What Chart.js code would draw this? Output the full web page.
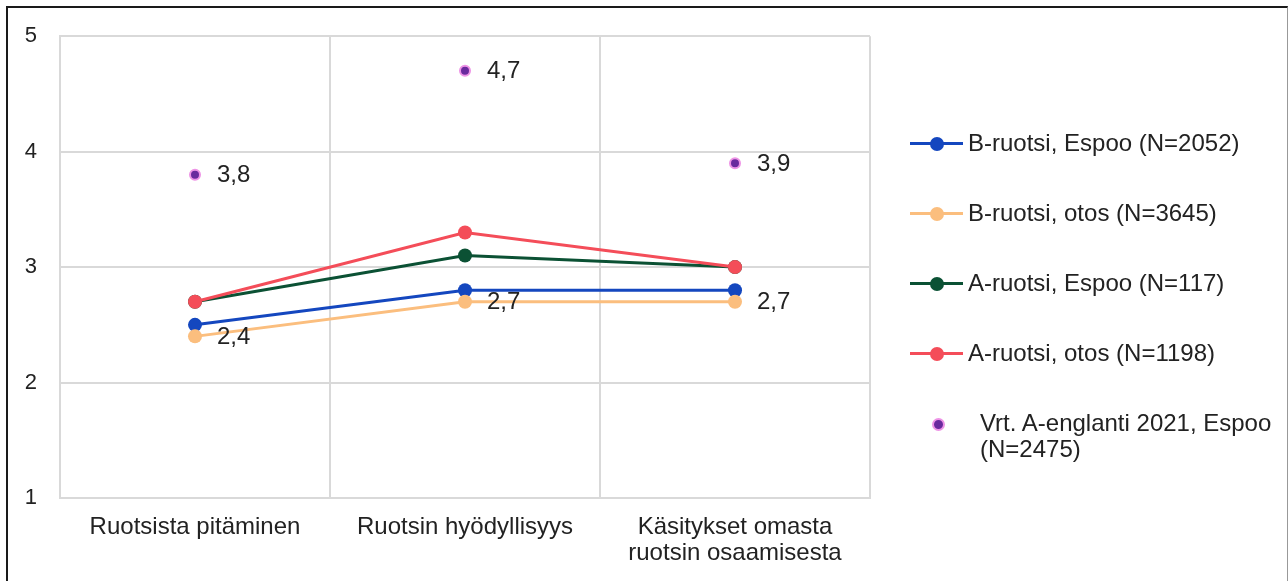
<!DOCTYPE html>
<html>
<head>
<meta charset="utf-8">
<script src="https://cdn.jsdelivr.net/npm/chart.js@4"></script>
<style>
  body { margin: 0; background: #fff; font-family: "Liberation Sans", Arial, sans-serif; }
  #frame { position: absolute; left: 6px; top: 6px; width: 1279px; height: 580px;
           border-top: 2px solid #1a1a1a; border-left: 2px solid #1a1a1a; border-right: 1px solid #999; }
  #chart { position: absolute; left: 0; top: 0; }
  #legend { position: absolute; left: 910px; top: 130px; color: #222; font-size: 24px; }
  .item { position: relative; line-height: 26px; margin-bottom: 44px; padding-left: 58px; white-space: pre-line; }
  .item .ln { position: absolute; left: 0; top: 12px; width: 53px; height: 3px; }
  .item .dot { position: absolute; left: 20px; top: 6.5px; width: 14px; height: 14px; border-radius: 50%; }
  .item.pts { padding-left: 70px; }
  .item.pts .dot { left: 22px; top: 8px; width: 9px; height: 9px; border: 2px solid; }
</style>
</head>
<body>
<div id="frame"></div>
<canvas id="chart" width="1288" height="581"></canvas>
<div id="legend"></div>
<script>
const categories = [
  'Ruotsista pitäminen',
  'Ruotsin hyödyllisyys',
  ['Käsitykset omasta', 'ruotsin osaamisesta']
];
const seriesNames = [
  'B-ruotsi, Espoo (N=2052)',
  'B-ruotsi, otos (N=3645)',
  'A-ruotsi, Espoo (N=117)',
  'A-ruotsi, otos (N=1198)',
  'Vrt. A-englanti 2021, Espoo\n(N=2475)'
];
const bEspoo = [2.5, 2.8, 2.8];
const bOtos = [2.4, 2.7, 2.7];
const aEspoo = [2.7, 3.1, 3.0];
const aOtos = [2.7, 3.3, 3.0];
const englantiEspoo = [3.8, 4.7, 3.9];
const yTicks = [1, 2, 3, 4, 5];

const font = '"Liberation Sans", Arial, sans-serif';
const textColor = '#222';
const gridColor = '#d9d9d9';

function lineSet(label, data, color, order, showValues) {
  return {
    label, data, order, showValues,
    borderColor: color, backgroundColor: color,
    pointBackgroundColor: color, pointBorderColor: color,
    borderWidth: 3, pointRadius: 7, pointHoverRadius: 7, pointBorderWidth: 0,
    tension: 0, fill: false
  };
}

const datasets = [
  lineSet(seriesNames[0], bEspoo, '#1447bf', 4, false),
  lineSet(seriesNames[1], bOtos, '#fbbe7e', 3, true),
  lineSet(seriesNames[2], aEspoo, '#0b5134', 2, false),
  lineSet(seriesNames[3], aOtos, '#f44d59', 1, false),
  {
    label: seriesNames[4], data: englantiEspoo, order: 0, showValues: true,
    showLine: false, borderColor: '#ee93e6', backgroundColor: '#6a2a9e',
    pointBackgroundColor: '#6a2a9e', pointBorderColor: '#ee93e6',
    pointRadius: 5, pointBorderWidth: 2, pointHoverRadius: 5
  }
];

const valueLabels = {
  id: 'valueLabels',
  afterDatasetsDraw(chart) {
    const ctx = chart.ctx;
    ctx.save();
    ctx.font = '24px ' + font;
    ctx.fillStyle = textColor;
    ctx.textBaseline = 'middle';
    ctx.textAlign = 'left';
    chart.data.datasets.forEach((ds, i) => {
      if (!ds.showValues) return;
      chart.getDatasetMeta(i).data.forEach((pt, j) => {
        ctx.fillText(ds.data[j].toFixed(1).replace('.', ','), pt.x + 22, pt.y + 1);
      });
    });
    ctx.restore();
  }
};

new Chart(document.getElementById('chart'), {
  type: 'line',
  data: { labels: categories, datasets },
  options: {
    responsive: false,
    animation: false,
    layout: { padding: { left: 0, top: 36, right: 418, bottom: 0 } },
    plugins: { legend: { display: false }, tooltip: { enabled: false } },
    scales: {
      x: {
        offset: true,
        grid: { offset: true, color: gridColor, lineWidth: 2, drawTicks: false },
        border: { color: gridColor, width: 2 },
        ticks: { color: textColor, font: { size: 24, family: font, lineHeight: 1.1 }, padding: 16, maxRotation: 0, autoSkip: false },
        afterFit(scale) { scale.height = 83; }
      },
      y: {
        min: 1, max: 5,
        afterBuildTicks(scale) { scale.ticks = yTicks.map(v => ({ value: v })); },
        grid: { color: gridColor, lineWidth: 2, drawTicks: false },
        border: { color: gridColor, width: 2 },
        ticks: { color: textColor, font: { size: 22, family: font }, padding: 23 },
        afterFit(scale) { scale.width = 60; }
      }
    }
  },
  plugins: [valueLabels]
});

// legend built from the same datasets
const legend = document.getElementById('legend');
datasets.forEach(ds => {
  const item = document.createElement('div');
  item.className = 'item' + (ds.showLine === false ? ' pts' : '');
  if (ds.showLine !== false) {
    const ln = document.createElement('span');
    ln.className = 'ln';
    ln.style.background = ds.borderColor;
    item.appendChild(ln);
  }
  const dot = document.createElement('span');
  dot.className = 'dot';
  dot.style.background = ds.pointBackgroundColor;
  dot.style.borderColor = ds.pointBorderColor;
  item.appendChild(dot);
  item.appendChild(document.createTextNode(ds.label));
  legend.appendChild(item);
});
</script>
</body>
</html>
